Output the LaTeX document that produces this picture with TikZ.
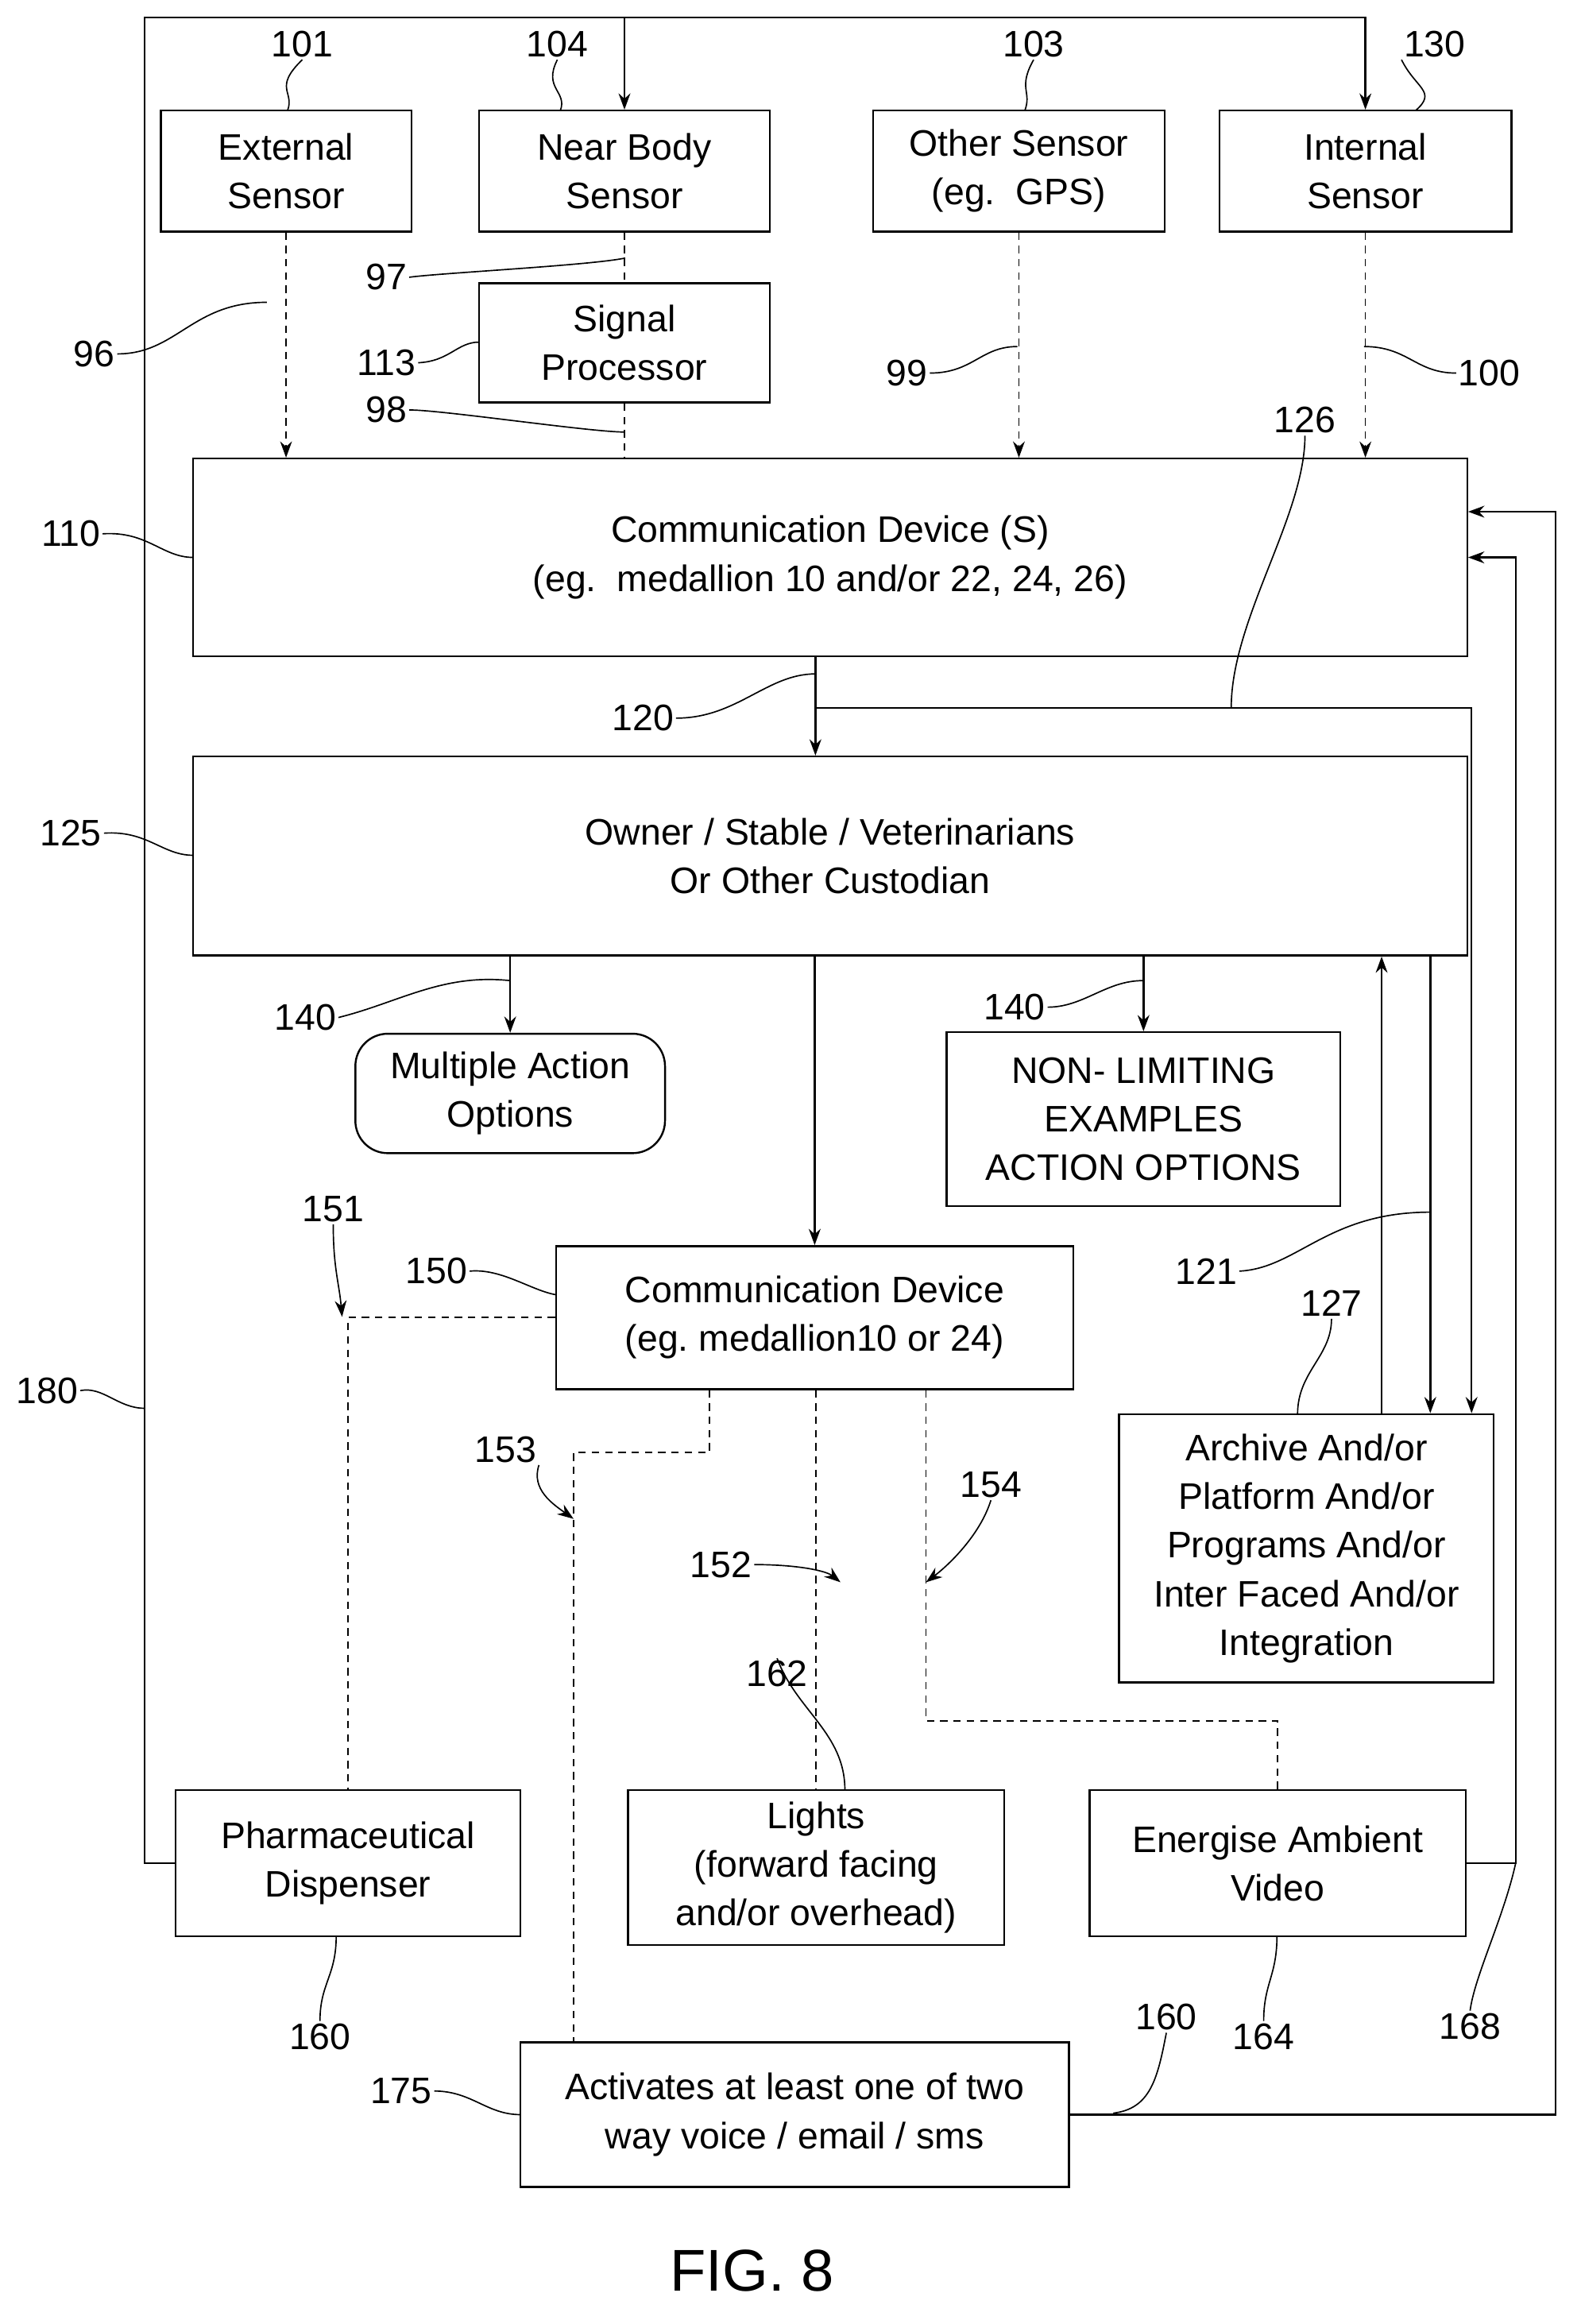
\documentclass[tikz,border=0pt]{standalone}
\usepackage{fontspec}
\setmainfont{Liberation Sans}
\usetikzlibrary{arrows.meta}
\begin{document}
\begin{tikzpicture}[x=1pt,y=-1pt,line width=1.3pt,
  box/.style={draw,align=center,inner sep=0pt,font=\fontsize{25}{33}\selectfont},
  lbl/.style={font=\fontsize{25}{30}\selectfont,inner sep=1pt},
  lead/.style={line width=0.9pt},
  dsh/.style={dashed,line width=0.9pt,dash pattern=on 5pt off 4pt},
  arr/.style={-{Stealth[length=11pt,width=8pt]}}]
\useasboundingbox (0,0) rectangle (1072,1576);
% boxes
\node[box,minimum width=170,minimum height=82] (ext) at (194,116) {External\\Sensor};
\node[box,minimum width=197,minimum height=82] (near) at (423.5,116) {Near Body\\Sensor};
\node[box,minimum width=198,minimum height=82] (oth) at (691,116) {Other Sensor\\(eg.~~GPS)};
\node[box,minimum width=198,minimum height=82] (int) at (926,116) {Internal\\Sensor};
\node[box,minimum width=197,minimum height=81] (sp) at (423.5,232.5) {Signal\\Processor};
\node[box,minimum width=864,minimum height=134] (comm) at (563,378) {Communication Device (S)\\(eg.~~medallion 10 and/or 22, 24, 26)};
\node[box,minimum width=864,minimum height=135] (own) at (563,580.5) {Owner / Stable / Veterinarians\\Or Other Custodian};
\node[box,rounded corners=22pt,minimum width=210,minimum height=81] (mult) at (346,741.5) {Multiple Action\\Options};
\node[box,minimum width=267,minimum height=118] (nonl) at (775.5,759) {NON- LIMITING\\EXAMPLES\\ACTION OPTIONS};
\node[box,minimum width=351,minimum height=97] (cd) at (552.5,893.5) {Communication Device\\(eg.~medallion10 or 24)};
\node[box,minimum width=254,minimum height=182] (arch) at (886,1050) {Archive And/or\\Platform And/or\\Programs And/or\\Inter Faced And/or\\Integration};
\node[box,minimum width=234,minimum height=99] (phar) at (236,1263.5) {Pharmaceutical\\Dispenser};
\node[box,minimum width=255,minimum height=105] (lig) at (553.5,1266.5) {Lights\\(forward facing\\and/or overhead)};
\node[box,minimum width=255,minimum height=99] (ener) at (866.5,1263.5) {Energise Ambient\\Video};
\node[box,minimum width=372,minimum height=98] (act) at (539,1434) {Activates at least one of two\\way voice / email / sms};
\node[font=\fontsize{40}{48}\selectfont] (fig) at (510,1540) {FIG. 8};
% coordinates
\coordinate (tl) at (98,12);
\coordinate (br1) at (553,480);
\coordinate (r1) at (1028,378);
\coordinate (r2) at (1055,347);
% top loop
\draw[arr] (phar.west) -| (tl) -| (int.north);
\draw[arr] (tl -| near.north) -- (near.north);
% sensor links
\draw[dsh,arr] (ext.south) -- (ext.south |- comm.north);
\draw[dsh] (near.south) -- (sp.north);
\draw[dsh] (sp.south) -- (sp.south |- comm.north);
\draw[dsh,arr] (oth.south) -- (oth.south |- comm.north);
\draw[dsh,arr] (int.south) -- (int.south |- comm.north);
% comm to owner and archive
\draw[arr] (comm.south -| br1) -- (own.north -| br1);
\draw[arr] (br1) -| (arch.north -| 998,0);
\draw[arr] (own.south -| mult.north) -- (mult.north);
\draw[arr] (own.south -| cd.north) -- (cd.north);
\draw[arr] (own.south -| nonl.north) -- (nonl.north);
\draw[arr] (own.south -| 970,0) -- (arch.north -| 970,0);
\draw[arr] (arch.north -| 937,0) -- (own.south -| 937,0);
% returns
\draw[arr] (ener.east) -| (r1) -- (comm.east |- r1);
\draw[arr] (act.east) -| (r2) -- (comm.east |- r2);
% dashed outputs
\draw[dsh] (cd.west) -| (phar.north);
\draw[dsh] (cd.south -| 481,0) -- (481,985) -| (act.north -| 389,0);
\draw[dsh] (cd.south -| lig.north) -- (lig.north);
\draw[dsh] (cd.south -| 628,0) -- (628,1167) -| (ener.north);
% reference numerals
\node[lbl] (n101) at (205,30) {101};
\node[lbl] (n104) at (378,30) {104};
\node[lbl] (n103) at (701,30) {103};
\node[lbl] (n130) at (973,30) {130};
\node[lbl] (n97) at (262,188) {97};
\node[lbl] (n96) at (64,240) {96};
\node[lbl] (n113) at (262,246) {113};
\node[lbl] (n98) at (262,278) {98};
\node[lbl] (n99) at (615,253) {99};
\node[lbl] (n100) at (1010,253) {100};
\node[lbl] (n126) at (885,285) {126};
\node[lbl] (n110) at (48,362) {110};
\node[lbl] (n120) at (436,487) {120};
\node[lbl] (n125) at (48,565) {125};
\node[lbl] (n140a) at (207,690) {140};
\node[lbl] (n140b) at (688,683) {140};
\node[lbl] (n151) at (226,820) {151};
\node[lbl] (n150) at (296,862) {150};
\node[lbl] (n121) at (818,862) {121};
\node[lbl] (n127) at (903,884) {127};
\node[lbl] (n180) at (32,943) {180};
\node[lbl] (n153) at (343,983) {153};
\node[lbl] (n154) at (672,1007) {154};
\node[lbl] (n152) at (489,1061) {152};
\node[lbl] (n162) at (527,1135) {162};
\node[lbl] (n160a) at (217,1381) {160};
\node[lbl] (n160b) at (791,1368) {160};
\node[lbl] (n164) at (857,1381) {164};
\node[lbl] (n168) at (997,1374) {168};
\node[lbl] (n175) at (272,1418) {175};
% leaders
\draw[lead] (n101.south) .. controls (185,60) and (200,62) .. (195,75);
\draw[lead] (n104.south) .. controls (368,60) and (385,62) .. (380,75);
\draw[lead] (n103.south) .. controls (690,60) and (700,62) .. (695,75);
\draw[lead] (n130.south west) .. controls (960,60) and (975,62) .. (960,75);
\draw[lead] (n97.east) .. controls (300,185) and (400,180) .. (424,175);
\draw[lead] (n96.east) .. controls (120,240) and (130,205) .. (181,205);
\draw[lead] (n113.east) .. controls (305,245) and (310,232) .. (325,232);
\draw[lead] (n98.east) .. controls (300,278) and (400,293) .. (424,293);
\draw[lead] (n99.east) .. controls (660,253) and (665,235) .. (690,235);
\draw[lead] (n100.west) .. controls (960,253) and (955,235) .. (925,235);
\draw[lead] (n126.south) .. controls (885,350) and (835,420) .. (835,480);
\draw[lead] (n110.east) .. controls (100,360) and (110,378) .. (131,378);
\draw[lead] (n120.east) .. controls (500,487) and (520,457) .. (553,457);
\draw[lead] (n125.east) .. controls (100,563) and (110,580) .. (131,580);
\draw[lead] (n140a.east) .. controls (270,680) and (300,660) .. (346,665);
\draw[lead] (n140b.east) .. controls (735,683) and (750,665) .. (775,665);
\draw[lead] (n150.east) .. controls (340,860) and (360,875) .. (377,878);
\draw[lead] (n121.east) .. controls (880,860) and (900,822) .. (970,822);
\draw[lead] (n127.south) .. controls (903,920) and (880,930) .. (880,959);
\draw[lead] (n180.east) .. controls (70,940) and (80,955) .. (98,955);
\draw[lead] (n162.north) .. controls (540,1160) and (573,1175) .. (573,1214);
\draw[lead] (n160a.north) .. controls (217,1345) and (228,1340) .. (228,1313);
\draw[lead] (n160b.south) .. controls (785,1410) and (780,1430) .. (755,1433);
\draw[lead] (n164.north) .. controls (857,1345) and (866,1340) .. (866,1313);
\draw[lead] (n168.north) .. controls (1000,1340) and (1020,1300) .. (1028,1263);
\draw[lead] (n175.east) .. controls (320,1418) and (330,1434) .. (353,1434);
% pointer arrows
\draw[lead,arr] (n151.south) .. controls (226,860) and (230,870) .. (232,893);
\draw[lead,arr] (n153.south east) .. controls (360,1010) and (375,1020) .. (389,1030);
\draw[lead,arr] (n152.east) .. controls (540,1061) and (560,1065) .. (570,1073);
\draw[lead,arr] (n154.south) .. controls (665,1040) and (645,1060) .. (628,1073);
\end{tikzpicture}
\end{document}
